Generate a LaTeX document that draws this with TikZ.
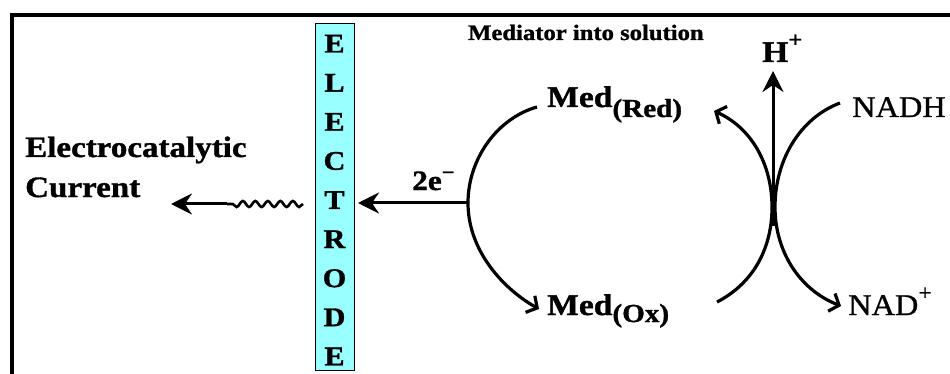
\documentclass[tikz,border=0pt]{standalone}
\usepackage{fontspec}
\setmainfont{Liberation Serif}[FakeStretch=1.12, BoldFeatures={FakeBold=1.2}]
\newfontfamily\regfont{Liberation Serif}[FakeStretch=1.08, FakeBold=0.8]
\usetikzlibrary{arrows.meta,decorations.pathmorphing}
\definecolor{elcyan}{RGB}{153,255,255}
\begin{document}
\begin{tikzpicture}[x=1pt,y=-1pt,
  lbl/.style={anchor=base west, inner sep=0pt, font=\bfseries\fontsize{30}{30}\selectfont},
  reg/.style={anchor=base west, inner sep=0pt, font=\regfont\fontsize{30}{30}\selectfont},
  bigarr/.style={line width=3pt, -{Stealth[length=21pt,width=21pt,inset=7pt]}},
  cyc/.style={line width=3.2pt},
  barb/.style={-{Straight Barb[length=8pt,width=19pt]}}]
\clip (0,0) rectangle (950,374);
\fill[white] (0,0) rectangle (950,374);
\draw[line width=4pt] (12,15) rectangle (980,420);
% electrode
\node[draw, fill=elcyan, line width=1.3pt, minimum width=39pt, minimum height=347pt,
      inner sep=0pt, anchor=north west] (electrode) at (315,23) {};
\foreach \l [count=\i] in {E,L,E,C,T,R,O,D,E}
  \node[anchor=base, inner sep=0pt, font=\bfseries\fontsize{27}{27}\selectfont]
    (letter\i) at (334.5,{52.5+39.1*(\i-1)}) {\l};
% left texts
\node[lbl, font=\bfseries\fontsize{29.5}{30}\selectfont] (ec) at (25,157) {Electrocatalytic};
\node[lbl, font=\bfseries\fontsize{29.5}{30}\selectfont] (cur) at (25,197) {Current};
% current arrow
\coordinate (wstart) at (303,204);
\coordinate (wend) at (227,204);
\coordinate (ctip) at (171,204);
\draw[line width=2.6pt, decorate, decoration={snake, amplitude=3pt, segment length=12.5pt}] (wstart) -- (wend);
\draw[bigarr] (wend) -- (ctip);
% title
\node[lbl, font=\bfseries\fontsize{22}{22}\selectfont] (title) at (468,40) {Mediator into solution};
% mediators
\node[lbl] (medred) at (547,107) {Med\raisebox{-10pt}{\fontsize{26}{26}\selectfont(Red)}};
\node[lbl] (medox) at (547,315) {Med\raisebox{-7pt}{\fontsize{26}{26}\selectfont(Ox)}};
% electrons
\node[lbl, font=\bfseries\fontsize{28}{28}\selectfont] (elec) at (412,190) {2e\raisebox{11pt}{\fontsize{20}{20}\selectfont −}};
\coordinate (arcL) at (468,203);
\coordinate (etip) at (358,203);
\draw[bigarr] (arcL) -- (etip);
% mediator cycle
\coordinate (c1) at (537,107);
\coordinate (c2) at (539,309);
\draw[cyc, barb] (c1) .. controls (498,118) and (468,158) .. (arcL)
                      .. controls (468,252) and (505,290) .. (c2);
% right crossing arcs
\coordinate (a1) at (717,302);
\coordinate (x1) at (772,207);
\coordinate (a2) at (714,111);
\draw[cyc, barb] (a1) .. controls (752,284) and (772,250) .. (x1)
                      .. controls (772,165) and (752,128) .. (a2);
\coordinate (b1) at (840,103);
\coordinate (x2) at (775,207);
\coordinate (b2) at (841,306);
\draw[cyc, barb] (b1) .. controls (800,118) and (775,160) .. (x2)
                      .. controls (775,252) and (800,290) .. (b2);
% H+
\node[lbl] (hplus) at (762,62) {H\raisebox{15pt}{\fontsize{22}{22}\selectfont +}};
\coordinate (hb) at (773,226);
\coordinate (ht) at (773,71);
\draw[bigarr] (hb) -- (ht);
% NADH / NAD+
\node[reg] (nadh) at (852,117) {NADH};
\node[reg] (nadp) at (848,315) {NAD\raisebox{15pt}{\fontsize{22}{22}\selectfont +}};
\end{tikzpicture}
\end{document}
